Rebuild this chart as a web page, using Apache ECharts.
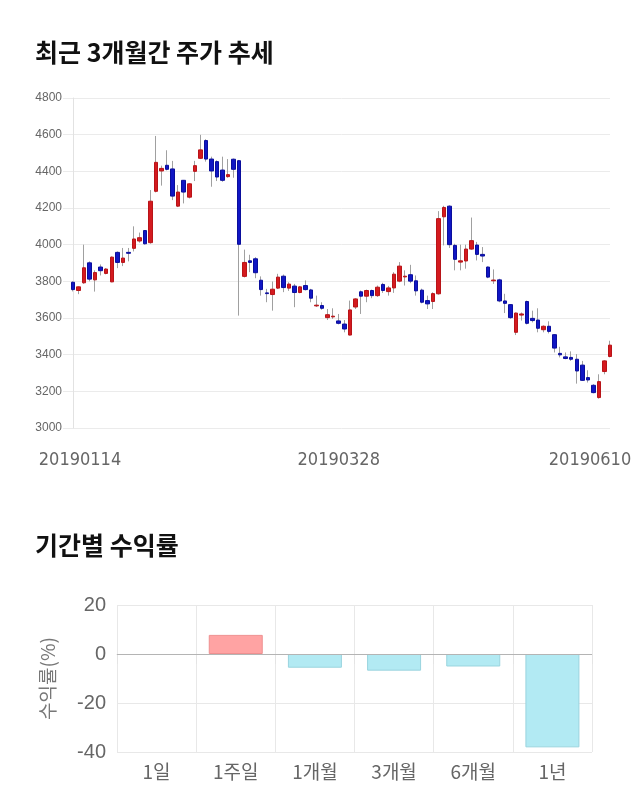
<!DOCTYPE html>
<html>
<head>
<meta charset="utf-8">
<script src="https://cdn.jsdelivr.net/npm/echarts@6/dist/echarts.min.js"></script>
<style>
  html, body { margin: 0; padding: 0; background: #fff; }
  #chart { width: 640px; height: 810px; }
</style>
</head>
<body>
<div id="chart"></div>
<script>
// ---- Data ----
const dates = [
  '20190114','20190115','20190116','20190117','20190118','20190121','20190122','20190123','20190124','20190125','20190128','20190129','20190130','20190131',
  '20190207','20190208','20190211','20190212','20190213','20190214','20190215','20190218','20190219','20190220','20190221','20190222','20190225','20190226','20190227','20190228',
  '20190304','20190305','20190306','20190307','20190308','20190311','20190312','20190313','20190314','20190315','20190318','20190319','20190320','20190321','20190322','20190325','20190326','20190327','20190328','20190329',
  '20190401','20190402','20190403','20190404','20190405','20190408','20190409','20190410','20190411','20190412','20190415','20190416','20190417','20190418','20190419','20190422','20190423','20190424','20190425','20190426','20190429','20190430',
  '20190502','20190503','20190507','20190508','20190509','20190510','20190513','20190514','20190515','20190516','20190517','20190520','20190521','20190522','20190523','20190524','20190527','20190528','20190529','20190530','20190531',
  '20190603','20190604','20190605','20190607','20190610'
];
const opens = [
  3795,3750,3792,3901,3808,3878,3843,3797,3958,3903,3958,3980,4020,4077,4011,4291,4402,4433,4413,4210,
  4351,4259,4400,4471,4568,4467,4453,4407,4371,4466,4458,3827,3912,3923,3806,3737,3728,3763,3828,3763,
  3774,3739,3777,3753,3666,3668,3602,3606,3584,3567,3507,3660,3743,3719,3750,3722,3783,3744,3764,3801,
  3824,3836,3803,3752,3695,3690,3732,4152,4210,3996,3905,3911,3976,3998,3947,3878,3803,3808,3693,3673,
  3522,3616,3690,3598,3589,3536,3555,3509,3407,3388,3385,3375,3343,3275,3233,3166,3308,3390
];
const closes = [
  3755,3770,3874,3812,3848,3858,3867,3932,3903,3927,3953,4031,4038,4005,4237,4449,4416,4411,4265,4287,
  4287,4332,4431,4517,4467,4402,4369,4351,4382,4411,4002,3903,3903,3847,3755,3733,3757,3823,3766,3785,
  3739,3770,3755,3708,3670,3653,3618,3610,3571,3540,3644,3704,3719,3750,3722,3768,3750,3764,3839,3883,
  3828,3801,3748,3686,3677,3733,4142,4203,4000,3920,3912,3976,4022,3947,3938,3823,3807,3693,3680,3602,
  3627,3622,3571,3586,3544,3555,3527,3436,3399,3379,3375,3311,3260,3262,3193,3253,3366,3452
];
const lows = [
  3745,3730,3786,3800,3744,3832,3838,3795,3872,3883,3909,3963,4011,4000,4005,4285,4322,4405,4243,4205,
  4225,4252,4347,4467,4453,4316,4347,4343,4365,4365,3613,3821,3850,3817,3722,3686,3640,3758,3741,3748,
  3659,3735,3750,3686,3660,3645,3589,3595,3565,3522,3505,3649,3622,3686,3708,3715,3737,3722,3737,3795,
  3777,3790,3722,3680,3649,3649,3727,3996,3982,3860,3860,3869,3972,3914,3905,3817,3786,3686,3627,3595,
  3507,3586,3565,3576,3522,3522,3516,3412,3385,3375,3366,3242,3257,3248,3189,3160,3293,3385
];
const highs = [
  3800,3772,4000,3909,3860,3892,3872,3936,3963,3982,3982,4100,4066,4080,4298,4593,4431,4515,4457,4325,
  4353,4335,4457,4599,4575,4480,4460,4480,4467,4470,4462,3973,3945,3932,3827,3759,3799,3841,3837,3795,
  3786,3775,3805,3759,3722,3686,3649,3653,3622,3589,3695,3708,3750,3755,3755,3777,3792,3775,3850,3905,
  3860,3890,3832,3760,3722,3740,4183,4212,4215,4005,4000,4000,4148,4015,3987,3881,3865,3814,3732,3676,
  3630,3630,3695,3640,3653,3560,3582,3512,3443,3412,3418,3403,3366,3315,3239,3293,3370,3476
];
const periods = ['1일','1주일','1개월','3개월','6개월','1년'];
const returns = [0, 7.8, -5.6, -6.8, -5.1, -38.1];

// ---- Build library inputs ----
const wickData = dates.map((d, i) => [opens[i], closes[i], lows[i], highs[i]]);
const bodyData = dates.map((d, i) => [opens[i], closes[i], Math.min(opens[i], closes[i]), Math.max(opens[i], closes[i])]);
const lastIdx = dates.length - 1;
const midIdx = dates.indexOf('20190328');

const chart = echarts.init(document.getElementById('chart'), null, { renderer: 'canvas' });
const gridLine = '#ebebeb';
const dateFont = "'DejaVu Sans Condensed', 'Liberation Sans', sans-serif";
const option = {
  animation: false,
  backgroundColor: '#fff',
  title: [
    { text: '최근 3개월간 주가 추세', left: 30, top: 35,
      textStyle: { fontFamily: 'Noto Sans CJK KR', fontWeight: 'bold', fontSize: 25, color: '#111' } },
    { text: '기간별 수익률', left: 30, top: 528,
      textStyle: { fontFamily: 'Noto Sans CJK KR', fontWeight: 'bold', fontSize: 25, color: '#111' } }
  ],
  grid: [
    { left: 73, right: 30, top: 98, height: 330 },
    { left: 117, right: 48, top: 605, height: 147 }
  ],
  xAxis: [
    {
      type: 'category', gridIndex: 0, data: dates, boundaryGap: false,
      axisLine: { show: false }, axisTick: { show: false }, splitLine: { show: false },
      axisLabel: {
        interval: (idx) => idx === 0 || idx === midIdx || idx === lastIdx,
        margin: 23,
        formatter: (val, idx) => {
          if (idx === 0) return '{a|' + val + '}';
          if (idx === lastIdx) return '{b|' + val + '}';
          return '{m|' + val + '}';
        },
        rich: {
          a: { fontFamily: dateFont, fontSize: 18, color: '#666', padding: [0, 0, 0, 14] },
          m: { fontFamily: dateFont, fontSize: 18, color: '#666' },
          b: { fontFamily: dateFont, fontSize: 18, color: '#666', padding: [0, 40, 0, 0] }
        }
      }
    },
    {
      type: 'category', gridIndex: 1, data: periods,
      axisLine: { show: true, lineStyle: { color: '#dcdcdc' } },
      axisTick: { show: true, length: 10, lineStyle: { color: '#e4e4e4' } },
      splitLine: { show: true, lineStyle: { color: '#e8e8e8' } },
      axisLabel: { fontFamily: 'Noto Sans CJK KR', fontSize: 19, color: '#666', margin: 10 }
    }
  ],
  yAxis: [
    {
      type: 'value', gridIndex: 0, min: 3000, max: 4800, interval: 200,
      axisLine: { show: true, lineStyle: { color: '#e2e2e2' } },
      axisTick: { show: true, length: 10, lineStyle: { color: gridLine } },
      splitLine: { show: true, lineStyle: { color: gridLine } },
      axisLabel: { fontFamily: 'Liberation Sans', fontSize: 12, color: '#666', margin: 11,
        formatter: (v) => String(v) }
    },
    {
      type: 'value', gridIndex: 1, min: -40, max: 20, interval: 20,
      name: '수익률(%)', nameLocation: 'middle', nameRotate: 90, nameGap: 60,
      nameTextStyle: { fontFamily: 'Noto Sans CJK KR', fontSize: 19, color: '#777' },
      axisLine: { show: false }, axisTick: { show: false },
      splitLine: { show: true, lineStyle: { color: '#e8e8e8' } },
      axisLabel: { fontFamily: 'Liberation Sans', fontSize: 20, color: '#666', margin: 11,
        formatter: (v) => String(v) }
    }
  ],
  series: [
    {
      type: 'candlestick', name: 'wick', xAxisIndex: 0, yAxisIndex: 0, data: wickData,
      barWidth: 1, clip: false, silent: true,
      itemStyle: { color: '#a0a0a0', color0: '#a0a0a0', borderColor: '#a0a0a0', borderColor0: '#a0a0a0', borderWidth: 1 }
    },
    {
      type: 'candlestick', name: 'body', xAxisIndex: 0, yAxisIndex: 0, data: bodyData,
      barWidth: 4, clip: false, silent: true,
      itemStyle: { color: '#d41a1f', color0: '#1016c4', borderColor: '#b81418', borderColor0: '#0a0e9c', borderWidth: 1 }
    },
    {
      type: 'bar', xAxisIndex: 1, yAxisIndex: 1, barWidth: 54, silent: true,
      data: returns.map(v => ({
        value: v,
        itemStyle: v === 0
          ? { color: 'transparent', borderWidth: 0 }
          : v > 0
            ? { color: '#ffa3a3', borderColor: '#ee9090', borderWidth: 1 }
            : { color: '#b2eaf3', borderColor: '#9ad4de', borderWidth: 1 }
      })),
      markLine: {
        silent: true, symbol: 'none', label: { show: false },
        lineStyle: { color: '#b4b4b4', type: 'solid', width: 1 },
        data: [{ yAxis: 0 }]
      }
    }
  ]
};
chart.setOption(option);
</script>
</body>
</html>
